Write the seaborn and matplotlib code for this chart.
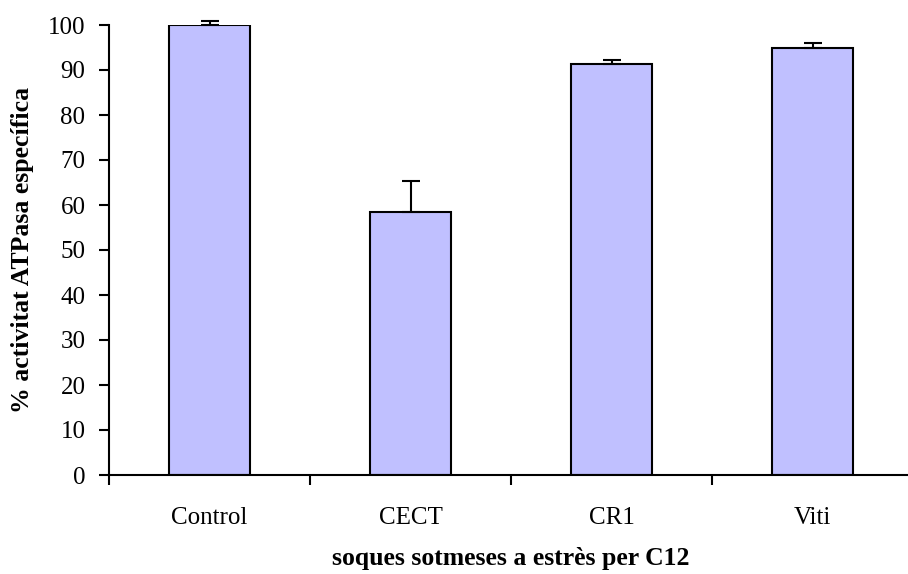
import matplotlib
matplotlib.use("Agg")
import matplotlib.pyplot as plt
import seaborn as sns
import pandas as pd
import numpy as np
from matplotlib.ticker import FixedLocator

categories = ["Control", "CECT", "CR1", "Viti"]
values = [100.0, 58.4, 91.4, 95.0]
errors = [0.9, 6.9, 0.9, 0.9]
yticks = [0, 10, 20, 30, 40, 50, 60, 70, 80, 90, 100]

sns.set_style("white")
plt.rcParams["font.family"] = ["Liberation Serif", "DejaVu Serif"]
plt.rcParams["text.color"] = "black"
plt.rcParams["axes.labelcolor"] = "black"
plt.rcParams["xtick.color"] = "black"
plt.rcParams["ytick.color"] = "black"

df = pd.DataFrame({"soca": categories, "valor": values})

fig = plt.figure(figsize=(9.08, 5.74), dpi=100)
ax = fig.add_axes([109 / 908, 1 - 475 / 574, 804 / 908, 450 / 574])

sns.barplot(data=df, x="soca", y="valor", ax=ax, color="#C0C0FF",
            saturation=1, width=0.4, edgecolor="black", linewidth=1.5,
            errorbar=None, zorder=2)

pos = np.arange(len(categories))
eb = ax.errorbar(pos, values, yerr=[np.zeros(len(errors)), errors], fmt="none",
                 ecolor="black", elinewidth=1.5, capsize=6.5, capthick=1.5, zorder=3)
for art in eb.lines[1] + eb.lines[2]:
    art.set_clip_on(False)

ax.set_xlim(-0.5, len(categories) - 0.5)
ax.set_ylim(0, 100)
ax.set_yticks(yticks)
ax.set_yticklabels([str(t) for t in yticks])

for s in ["top", "right"]:
    ax.spines[s].set_visible(False)
for s in ["left", "bottom"]:
    ax.spines[s].set_linewidth(1.5)
    ax.spines[s].set_color("black")
ax.spines["bottom"].set_clip_on(False)

ax.tick_params(axis="y", which="major", direction="out", length=7, width=1.5,
               labelsize=18, pad=10, left=True, color="black", labelcolor="black")
ax.tick_params(axis="x", which="major", length=0, labelsize=18, pad=23,
               labelcolor="black")
ax.xaxis.set_minor_locator(FixedLocator(np.arange(-0.5, len(categories), 1.0)))
ax.tick_params(axis="x", which="minor", direction="out", length=7, width=1.5,
               bottom=True, color="black")

ax.set_xlabel("soques sotmeses a estrès per C12", fontsize=18.5, fontweight="bold",
              labelpad=13, color="black")
ax.set_ylabel("% activitat ATPasa específica", fontsize=18.5, fontweight="bold",
              labelpad=10, color="black")
ax.grid(False)

fig.savefig("out.png", dpi=100)
